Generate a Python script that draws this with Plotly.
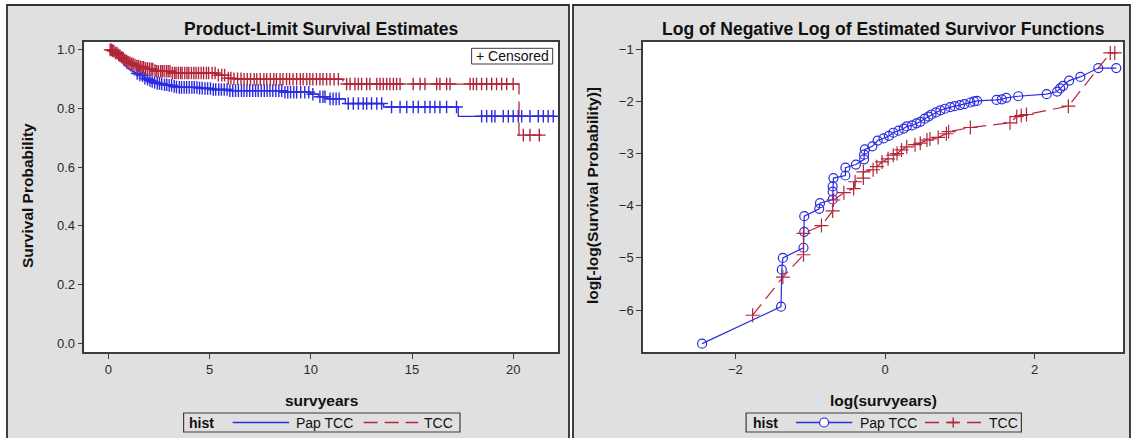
import numpy as np
import plotly.graph_objects as go

# ---------------- data ----------------
group_names = ["Pap TCC", "TCC"]

# right panel readings: log(survyears) and log[-log(S)] at event times
pap_log_t = [-2.445, -1.39, -1.38, -1.366, -1.09, -1.08, -1.08, -0.88, -0.87, -0.70,
             -0.70, -0.70, -0.69, -0.53, -0.53, -0.39, -0.28, -0.28, -0.27, -0.17,
             -0.10, -0.02, 0.05, 0.11, 0.18, 0.25, 0.29, 0.36, 0.42, 0.47,
             0.53, 0.58, 0.62, 0.68, 0.74, 0.80, 0.87, 0.93, 1.00, 1.06,
             1.14, 1.19, 1.23, 1.49, 1.56, 1.62, 1.78, 2.16, 2.30, 2.34,
             2.38, 2.46, 2.61, 2.85, 3.09]
pap_loglog = [-6.645, -5.935, -5.226, -5.00, -4.806, -4.50, -4.20, -4.06, -3.95, -3.88,
              -3.73, -3.63, -3.47, -3.42, -3.27, -3.21, -3.11, -3.02, -2.92, -2.86,
              -2.75, -2.71, -2.66, -2.60, -2.56, -2.52, -2.48, -2.46, -2.42, -2.39,
              -2.33, -2.29, -2.25, -2.21, -2.17, -2.14, -2.11, -2.09, -2.07, -2.05,
              -2.02, -2.00, -1.99, -1.97, -1.96, -1.93, -1.90, -1.86, -1.81, -1.75,
              -1.70, -1.60, -1.53, -1.36, -1.36]

tcc_log_t = [-1.77, -1.366, -1.09, -1.09, -0.85, -0.70, -0.69, -0.55, -0.42, -0.40,
             -0.29, -0.29, -0.16, -0.11, -0.04, 0.04, 0.11, 0.16, 0.22, 0.29,
             0.40, 0.47, 0.56, 0.60, 0.71, 0.82, 0.85, 1.14, 1.67, 1.76,
             1.82, 1.89, 2.45, 3.01, 3.07]
tcc_loglog = [-6.10, -5.37, -4.94, -4.53, -4.38, -4.10, -3.89, -3.75, -3.67, -3.54,
              -3.47, -3.35, -3.31, -3.25, -3.16, -3.10, -3.03, -3.00, -2.93, -2.87,
              -2.83, -2.80, -2.74, -2.72, -2.69, -2.62, -2.58, -2.50, -2.41, -2.29,
              -2.27, -2.25, -2.09, -1.07, -1.07]

# censoring times (survyears)
pap_censored = [1.42, 1.55, 1.68, 1.8, 1.93, 2.05, 2.16, 2.28, 2.41, 2.52, 2.63, 2.77,
                2.88, 3.0, 3.12, 3.25, 3.36, 3.5, 3.61, 3.74, 3.86, 3.99, 4.12, 4.24,
                4.37, 4.5, 4.63, 4.77, 4.9, 5.04, 5.18, 5.3, 5.45, 5.58, 5.72, 5.86,
                6.0, 6.14, 6.28, 6.42, 6.57, 6.7, 6.84, 6.98, 7.13, 7.27, 7.4, 7.55,
                7.7, 7.84, 7.98, 8.12, 8.27, 8.42, 8.56, 8.72, 8.86, 9.0, 9.16, 9.3,
                9.5, 9.7, 9.9, 10.1, 10.45, 10.6, 10.7, 10.95, 11.1, 11.25, 11.4,
                11.85, 12.1, 12.35, 12.59, 12.76, 13.0, 13.26, 13.5, 13.99, 14.41,
                14.74, 15.06, 15.31, 15.64, 15.89, 16.13, 16.38, 16.71, 17.2, 18.44,
                18.69, 18.94, 19.1, 19.51, 19.76, 20.0, 20.25, 20.42, 20.83, 21.24,
                21.49, 21.73, 21.98]
tcc_censored = [0.08, 0.14, 0.21, 0.27, 0.35, 0.42, 0.5, 0.57, 0.66, 0.73, 0.81, 0.9,
                0.97, 1.06, 1.15, 1.22, 1.31, 1.4, 1.48, 1.57, 1.66, 1.74, 1.83, 1.92,
                2.02, 2.11, 2.19, 2.3, 2.38, 2.47, 2.58, 2.66, 2.75, 2.86, 2.95, 3.04,
                3.15, 3.26, 3.34, 3.45, 3.56, 3.64, 3.77, 3.88, 3.97, 4.1, 4.22, 4.33,
                4.45, 4.58, 4.7, 4.84, 4.95, 5.12, 5.27, 5.43, 5.6, 5.74, 5.92, 6.05,
                6.2, 6.38, 6.55, 6.7, 6.86, 7.02, 7.2, 7.33, 7.5, 7.68, 7.82, 8.0,
                8.17, 8.3, 8.48, 8.62, 8.8, 8.95, 9.12, 9.3, 9.48, 9.62, 9.8, 9.95,
                10.1, 10.28, 10.45, 10.6, 10.78, 10.95, 11.15, 11.36, 11.77, 11.94,
                12.18, 12.35, 12.51, 12.76, 12.92, 13.26, 13.42, 13.58, 13.75, 13.91,
                14.08, 14.24, 14.41, 15.06, 15.4, 15.64, 16.22, 16.38, 16.71, 16.88,
                17.87, 18.03, 18.19, 18.44, 18.69, 18.94, 19.18, 19.43, 19.68, 20.0,
                20.5, 20.83, 21.29]

x_ticks_left = [0, 5, 10, 15, 20]
y_ticks_left = [0.0, 0.2, 0.4, 0.6, 0.8, 1.0]
x_ticks_right = [-2, 0, 2]
y_ticks_right = [-6, -5, -4, -3, -2, -1]

# ---------------- styling ----------------
BLUE = "#2b2be0"
RED = "#b3253a"
PANEL = "#e0e0e0"
FRAME = "#3c3c3c"
FONT = "Liberation Sans, Arial, sans-serif"
W, H = 1135, 438


def fx(px):
    return px / W


def fy(py):
    return 1 - py / H


def km_steps(log_t, loglog):
    t = np.exp(np.array(log_t))
    s = np.exp(-np.exp(np.array(loglog)))
    return t, s


def surv_at(times, t_ev, s_ev):
    out = []
    for c in times:
        idx = np.searchsorted(t_ev, c, side="right") - 1
        out.append(1.0 if idx < 0 else float(s_ev[idx]))
    return out


fig = go.Figure()

series = [
    (group_names[0], pap_log_t, pap_loglog, pap_censored, BLUE, "solid", "circle-open", 9),
    (group_names[1], tcc_log_t, tcc_loglog, tcc_censored, RED, "14px,7px", "cross-thin", 10),
]

for name, lt, ll, cens, col, dash, sym, msz in series:
    t_ev, s_ev = km_steps(lt, ll)
    fig.add_trace(go.Scatter(
        x=[0.0] + list(t_ev), y=[1.0] + list(s_ev), mode="lines",
        line=dict(color=col, width=1.3, dash=dash, shape="hv"),
        name=name, showlegend=False, xaxis="x", yaxis="y"))
    fig.add_trace(go.Scatter(
        x=cens, y=surv_at(cens, t_ev, s_ev), mode="markers",
        marker=dict(symbol="cross-thin", size=9, line=dict(width=1.4, color=col), color=col),
        showlegend=False, xaxis="x", yaxis="y"))
    fig.add_trace(go.Scatter(
        x=lt, y=ll, mode="lines+markers",
        line=dict(color=col, width=1.2, dash=dash),
        marker=dict(symbol=sym, size=msz, color=col, line=dict(width=1.2, color=col)),
        name=name, showlegend=False, xaxis="x2", yaxis="y2"))

axis_common = dict(showline=True, linecolor=FRAME, linewidth=1.5, mirror=True,
                   ticks="outside", ticklen=5, tickwidth=1, tickcolor=FRAME,
                   showgrid=False, zeroline=False,
                   tickfont=dict(family=FONT, size=13, color="#2a2a2a"))

PL = (84.4, 558.3)
PR = (643.0, 1123.0)
PT, PB = 42.0, 352.0

fig.update_layout(
    width=W, height=H, margin=dict(l=0, r=0, t=0, b=0),
    paper_bgcolor="white", plot_bgcolor="rgba(0,0,0,0)",
    showlegend=False,
    xaxis=dict(domain=[fx(PL[0]), fx(PL[1])], range=[-1.19, 22.23],
               tickvals=x_ticks_left, anchor="y", **axis_common),
    yaxis=dict(domain=[fy(PB), fy(PT)], range=[-0.03, 1.027],
               tickvals=y_ticks_left, tickformat=".1f", anchor="x", **axis_common),
    xaxis2=dict(domain=[fx(PR[0]), fx(PR[1])], range=[-3.235, 3.18],
                tickvals=x_ticks_right, anchor="y2", **axis_common),
    yaxis2=dict(domain=[fy(PB), fy(PT)], range=[-6.805, -0.86],
                tickvals=y_ticks_right, anchor="x2", **axis_common),
)

shapes = []
# panels
for x0, x1 in [(7, 569), (573, 1130)]:
    shapes.append(dict(type="rect", xref="paper", yref="paper", layer="below",
                       x0=fx(x0), x1=fx(x1), y0=fy(450), y1=fy(5),
                       fillcolor=PANEL, line=dict(color="#2e2e2e", width=1.8)))
# plot backgrounds
for x0, x1 in [PL, PR]:
    shapes.append(dict(type="rect", xref="paper", yref="paper", layer="below",
                       x0=fx(x0), x1=fx(x1), y0=fy(PB), y1=fy(PT),
                       fillcolor="white", line=dict(width=0)))
# censored box
shapes.append(dict(type="rect", xref="paper", yref="paper",
                   x0=fx(471.6), x1=fx(552.7), y0=fy(64), y1=fy(48.3),
                   fillcolor="rgba(0,0,0,0)", line=dict(color=FRAME, width=1)))

annotations = []


def txt(text, x, y, size, bold=False, xanchor="center", angle=0, color="#111"):
    annotations.append(dict(text=("<b>%s</b>" % text) if bold else text,
                            x=fx(x), y=fy(y), xref="paper", yref="paper",
                            xanchor=xanchor, yanchor="middle", showarrow=False,
                            textangle=angle,
                            font=dict(family=FONT, size=size, color=color)))


txt("+ Censored", 512.2, 56.3, 14)
txt("Product-Limit Survival Estimates", 321.4, 28.5, 17.5, bold=True)
txt("Log of Negative Log of Estimated Survivor Functions", 883, 28.5, 17.5, bold=True)
txt("survyears", 321.4, 400, 15.5, bold=True)
txt("log(survyears)", 883, 400, 15.5, bold=True)
txt("Survival Probability", 27, 196, 15.5, bold=True, angle=-90)
txt("log[-log(Survival Probability)]", 592, 196, 15.5, bold=True, angle=-90)

# legends (hist)
legend_specs = [
    dict(box=(183.6, 460), hist=187.3, l1=(232.7, 289.1), t1=294.5, l2=(363.6, 418.2), t2=421.8, markers=False),
    dict(box=(746.1, 1021.4), hist=750.5, l1=(795.9, 852.3), t1=857.7, l2=(925.0, 981.4), t2=986.8, markers=True),
]
LY = 422.5
for spec in legend_specs:
    shapes.append(dict(type="rect", xref="paper", yref="paper",
                       x0=fx(spec["box"][0]), x1=fx(spec["box"][1]), y0=fy(432), y1=fy(413),
                       fillcolor="rgba(0,0,0,0)", line=dict(color=FRAME, width=1.2)))
    txt("hist", spec["hist"], LY, 14, bold=True, xanchor="left")
    shapes.append(dict(type="line", xref="paper", yref="paper",
                       x0=fx(spec["l1"][0]), x1=fx(spec["l1"][1]), y0=fy(LY), y1=fy(LY),
                       line=dict(color=BLUE, width=1.4)))
    shapes.append(dict(type="line", xref="paper", yref="paper",
                       x0=fx(spec["l2"][0]), x1=fx(spec["l2"][1]), y0=fy(LY), y1=fy(LY),
                       line=dict(color=RED, width=1.4, dash="14px,7px")))
    txt(group_names[0], spec["t1"], LY, 14, xanchor="left")
    txt(group_names[1], spec["t2"], LY, 14, xanchor="left")
    if spec["markers"]:
        cx = (spec["l1"][0] + spec["l1"][1]) / 2
        shapes.append(dict(type="circle", xref="paper", yref="paper",
                           x0=fx(cx - 4.5), x1=fx(cx + 4.5), y0=fy(LY + 4.5), y1=fy(LY - 4.5),
                           fillcolor="white", line=dict(color=BLUE, width=1.2)))
        cx2 = (spec["l2"][0] + spec["l2"][1]) / 2
        shapes.append(dict(type="path", xref="paper", yref="paper",
                           path="M %f,%f L %f,%f M %f,%f L %f,%f" % (
                               fx(cx2 - 5), fy(LY), fx(cx2 + 5), fy(LY),
                               fx(cx2), fy(LY - 5), fx(cx2), fy(LY + 5)),
                           line=dict(color=RED, width=1.4)))

fig.update_layout(shapes=shapes, annotations=annotations)
fig.write_html("out.html", config={"displayModeBar": False},
               post_script="document.body.style.margin='0px';")
